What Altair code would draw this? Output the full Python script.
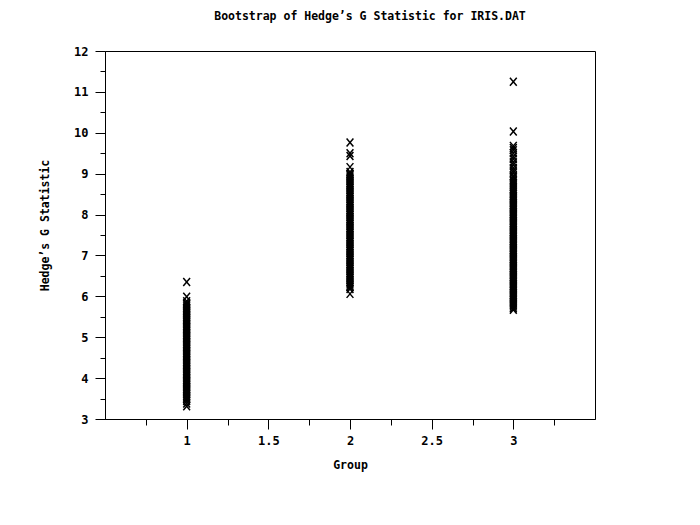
import altair as alt
import pandas as pd

# Values (bootstrap Hedge's G per group)
group1 = [3.31, 3.38, 3.44, 3.49, 3.52, 3.56, 3.60, 3.63, 3.67, 3.71, 3.74, 3.78, 3.82,
          3.85, 3.89, 3.93, 3.96, 4.00, 4.04, 4.07, 4.11, 4.15, 4.18, 4.22, 4.26, 4.29,
          4.33, 4.37, 4.40, 4.44, 4.48, 4.51, 4.55, 4.59, 4.62, 4.66, 4.70, 4.73, 4.77,
          4.81, 4.84, 4.88, 4.92, 4.95, 4.99, 5.03, 5.06, 5.10, 5.14, 5.17, 5.21, 5.25,
          5.28, 5.32, 5.36, 5.39, 5.43, 5.47, 5.50, 5.54, 5.58, 5.61, 5.65, 5.69, 5.72,
          5.76, 5.80, 5.83, 5.88, 5.99, 6.35]
group2 = [6.06, 6.18, 6.22, 6.25, 6.29, 6.33, 6.36, 6.40, 6.44, 6.47, 6.51, 6.55, 6.58,
          6.62, 6.66, 6.69, 6.73, 6.77, 6.80, 6.84, 6.88, 6.91, 6.95, 6.99, 7.02, 7.06,
          7.10, 7.13, 7.17, 7.21, 7.24, 7.28, 7.32, 7.35, 7.39, 7.43, 7.46, 7.50, 7.54,
          7.57, 7.61, 7.65, 7.68, 7.72, 7.76, 7.79, 7.83, 7.87, 7.90, 7.94, 7.98, 8.01,
          8.05, 8.09, 8.12, 8.16, 8.20, 8.23, 8.27, 8.31, 8.34, 8.38, 8.42, 8.45, 8.49,
          8.53, 8.56, 8.60, 8.64, 8.67, 8.71, 8.75, 8.78, 8.82, 8.86, 8.89, 8.93, 8.97,
          9.00, 9.04, 9.16, 9.43, 9.50, 9.76]
group3 = [5.67, 5.71, 5.75, 5.79, 5.82, 5.86, 5.90, 5.93, 5.97, 6.01, 6.04, 6.08, 6.12,
          6.15, 6.19, 6.23, 6.26, 6.30, 6.34, 6.37, 6.41, 6.45, 6.48, 6.52, 6.56, 6.59,
          6.63, 6.67, 6.70, 6.74, 6.78, 6.81, 6.85, 6.89, 6.92, 6.96, 7.00, 7.03, 7.07,
          7.11, 7.14, 7.18, 7.22, 7.25, 7.29, 7.33, 7.36, 7.40, 7.44, 7.47, 7.51, 7.55,
          7.58, 7.62, 7.66, 7.69, 7.73, 7.77, 7.80, 7.84, 7.88, 7.91, 7.95, 7.99, 8.02,
          8.06, 8.10, 8.13, 8.17, 8.21, 8.24, 8.28, 8.32, 8.35, 8.39, 8.43, 8.46, 8.50,
          8.54, 8.58, 8.63, 8.68, 8.72, 8.77, 8.82, 8.86, 8.91, 8.95, 9.02, 9.08, 9.14,
          9.22, 9.28, 9.36, 9.42, 9.50, 9.57, 9.63, 9.68, 10.03, 11.25]

x_ticks = [0.75, 1, 1.25, 1.5, 1.75, 2, 2.25, 2.5, 2.75, 3, 3.25]
y_ticks = [3, 3.5, 4, 4.5, 5, 5.5, 6, 6.5, 7, 7.5, 8, 8.5, 9, 9.5, 10, 10.5, 11, 11.5, 12]

rows = []
for g, vals in ((1, group1), (2, group2), (3, group3)):
    for v in vals:
        rows.append({"Group": g, "G": v})
df = pd.DataFrame(rows)

FONT = "DejaVu Sans Mono"

x_shape = "M-0.85,-1L0.85,1M0.85,-1L-0.85,1"

chart = alt.Chart(df).mark_point(
    shape=x_shape, filled=False, stroke="black", strokeWidth=1.5, size=64, opacity=1
).encode(
    x=alt.X("Group:Q", scale=alt.Scale(domain=[0.5, 3.5], nice=False, zero=False),
            axis=alt.Axis(values=x_ticks, grid=False, domainColor="black", tickColor="black",
                          tickSize={"condition": {"test": "(datum.value * 2) % 1 === 0", "value": 10}, "value": 6},
                          format="~g",
                          labelExpr="(datum.value * 2) % 1 === 0 ? datum.label : ''",
                          labelFont=FONT, labelFontWeight="bold", labelFontSize=12,
                          labelColor="black", labelPadding=6,
                          title="Group", titleFont=FONT, titleFontWeight="bold", titleFontSize=11.5,
                          titleColor="black", titleY=46, titleBaseline="middle")),
    y=alt.Y("G:Q", scale=alt.Scale(domain=[3, 12], nice=False, zero=False),
            axis=alt.Axis(values=y_ticks, grid=False, domainColor="black", tickColor="black",
                          tickSize={"condition": {"test": "datum.value % 1 === 0", "value": 10}, "value": 5},
                          format="~g",
                          labelExpr="datum.value % 1 === 0 ? datum.label : ''",
                          labelFont=FONT, labelFontWeight="bold", labelFontSize=12,
                          labelColor="black", labelPadding=7,
                          title="Hedge\u2019s G Statistic", titleFont=FONT, titleFontWeight="bold",
                          titleFontSize=11.5, titleColor="black", titleAngle=-90,
                          titleX=-60, titleY=174, titleAlign="center", titleBaseline="middle")),
).properties(
    width=490, height=368,
    title=alt.TitleParams("Bootstrap of Hedge\u2019s G Statistic for IRIS.DAT", anchor="middle",
                          font=FONT, fontWeight="bold", fontSize=11.5, color="black",
                          offset=23, dx=20),
    autosize=alt.AutoSizeParams(type="none"),
    padding={"left": 97, "top": 43, "right": 97, "bottom": 90},
).configure(background="white").configure_view(stroke="black", strokeWidth=1)

chart.save("out.html", embed_options={"renderer": "svg", "actions": False})
